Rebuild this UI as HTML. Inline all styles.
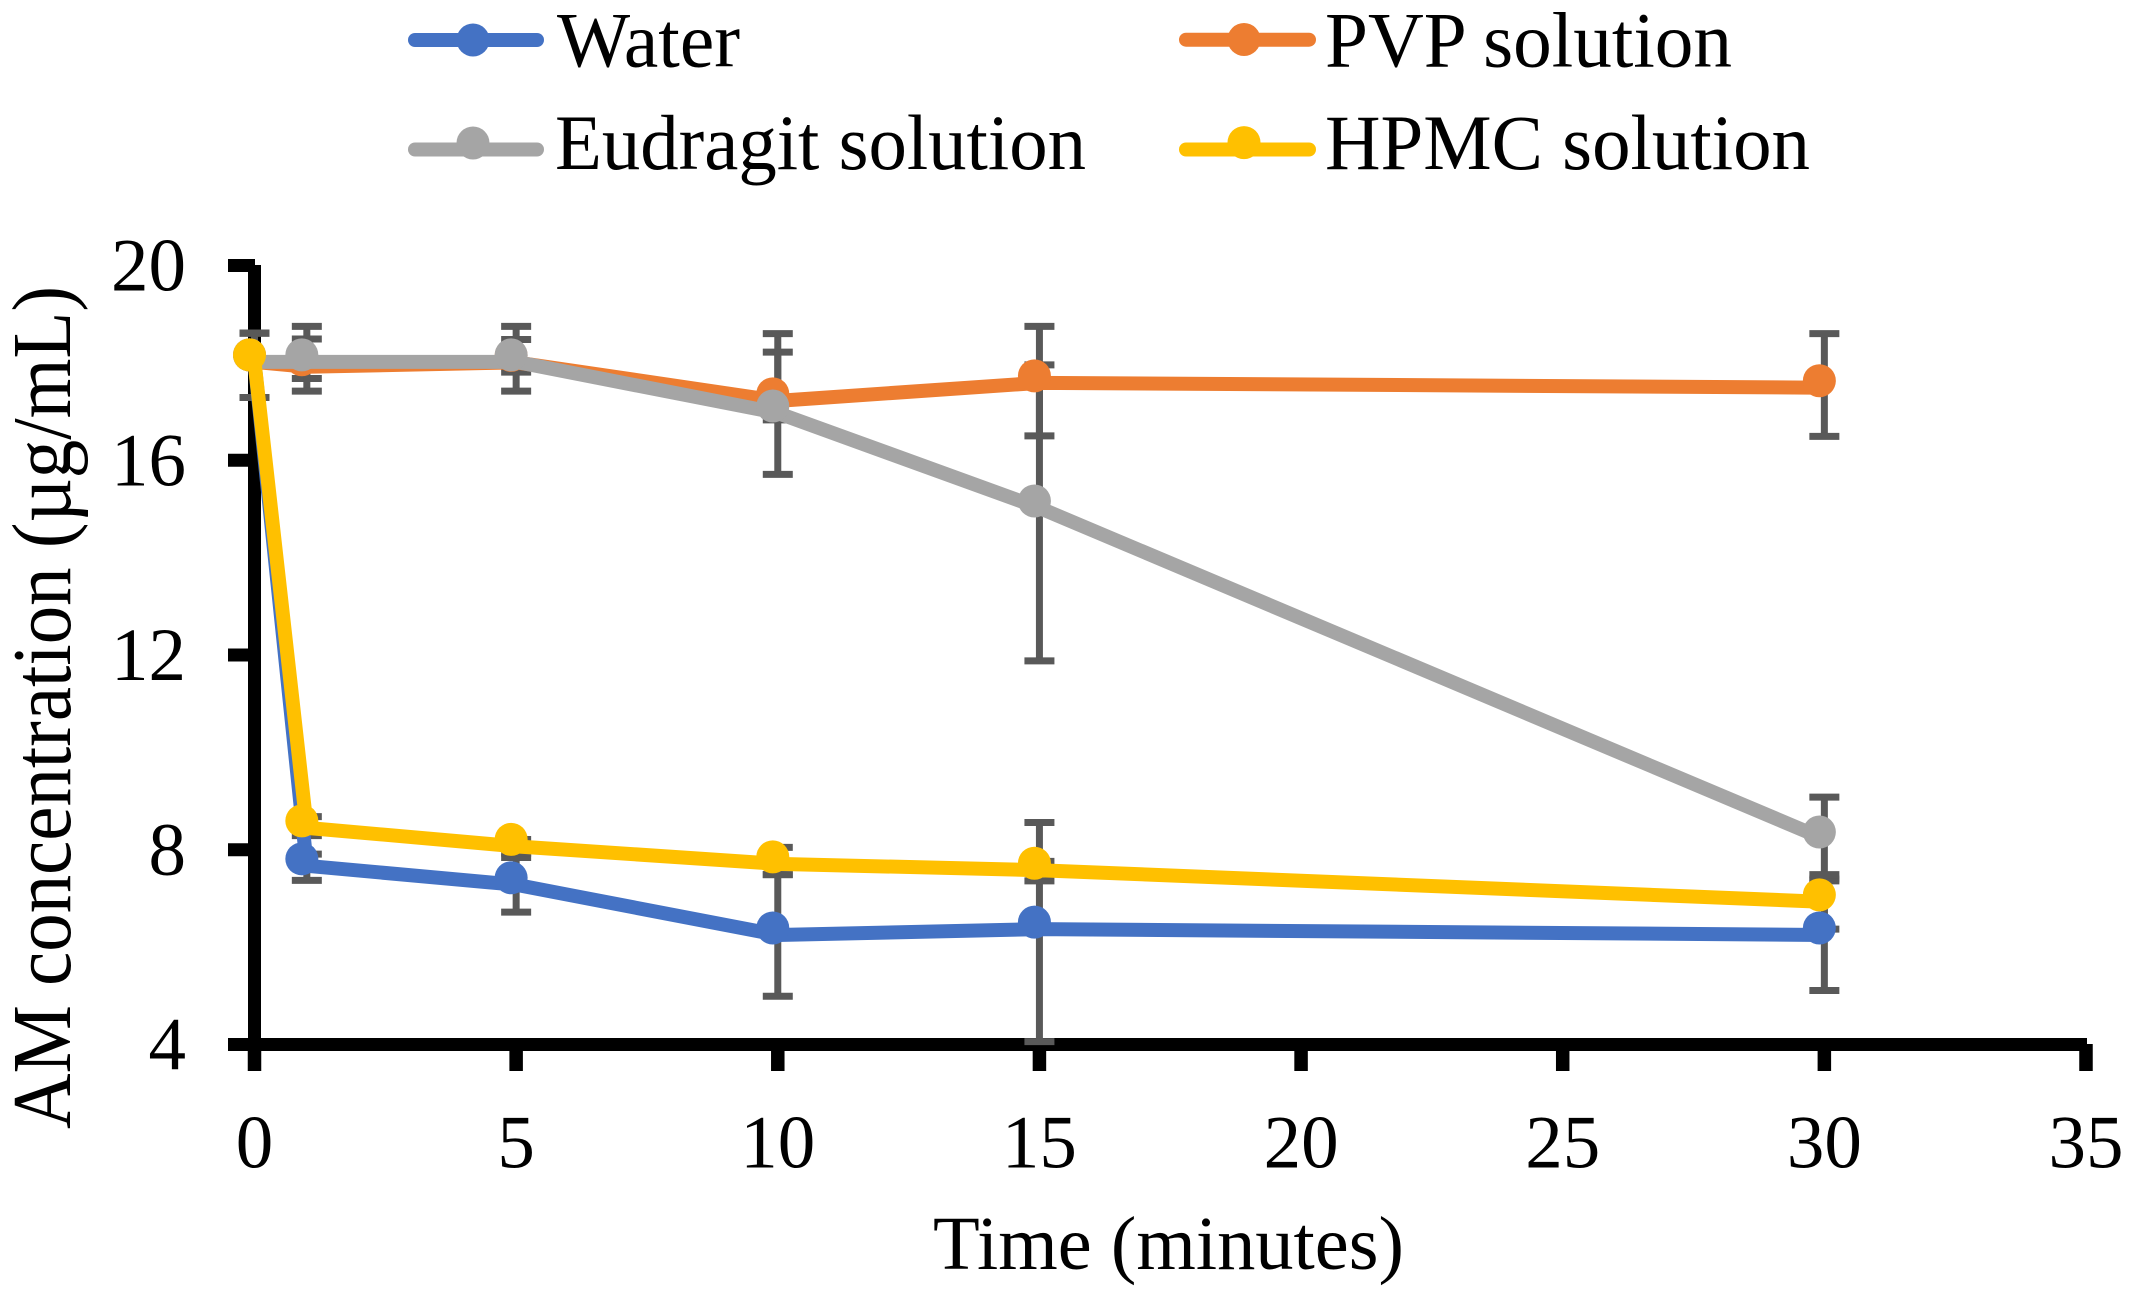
<!DOCTYPE html>
<html lang="en">
<head>
<meta charset="utf-8">
<title>AM concentration over time</title>
<style>
  html, body { margin: 0; padding: 0; background: #ffffff; }
  body { width: 2131px; height: 1295px; overflow: hidden; }
  svg { display: block; }
  text { font-family: "Liberation Serif", "Times New Roman", serif; fill: #000000; }
</style>
</head>
<body>
<svg id="chart" xmlns="http://www.w3.org/2000/svg" width="2131" height="1295" viewBox="0 0 2131 1295">
  <rect x="0" y="0" width="2131" height="1295" fill="#ffffff"></rect>
  <text x="933" y="1269" font-size="76" textLength="471" lengthAdjust="spacingAndGlyphs">Time (minutes)</text>
  <text transform="translate(70 1129) rotate(-90)" x="0" y="0" font-size="84" textLength="843" lengthAdjust="spacingAndGlyphs">AM concentration (µg/mL)</text>
</svg>
<script>
// ---- chart data ----
const times = [0, 1, 5, 10, 15, 30];

const xTickLabels = [0, 5, 10, 15, 20, 25, 30, 35];
const yTickLabels = [4, 8, 12, 16, 20];

const waterValues = [18.02, 7.67, 7.28, 6.25, 6.37, 6.25];
const waterErrUp = [0.59, 0.24, 0.56, 1.24, 2.19, 1.15];
const waterErrDown = [0.73, 0.30, 0.56, 1.26, 2.31, 1.14];

const pvpValues = [18.02, 17.92, 18.01, 17.22, 17.59, 17.49];
const pvpErrUp = [0.59, 0.57, 0.47, 1.00, 1.16, 1.11];
const pvpErrDown = [0.73, 0.24, 0.20, 0.39, 1.09, 1.00];

const eudragitValues = [18.02, 18.02, 18.02, 16.97, 15.02, 8.22];
const eudragitErrUp = [0.59, 0.73, 0.73, 1.63, 2.94, 0.86];
const eudragitErrDown = [0.73, 0.60, 0.60, 1.26, 3.14, 0.86];

const hpmcValues = [18.02, 8.45, 8.07, 7.71, 7.58, 6.93];
const hpmcErrUp = [0.59, 0.23, 0.14, 0.34, 0.18, 0.56];
const hpmcErrDown = [0.73, 0.16, 0.14, 0.22, 0.22, 0.56];

const seriesNames = ["Water", "PVP solution", "Eudragit solution", "HPMC solution"];
const seriesKeys = ["water", "pvp", "eudragit", "hpmc"];

// ---- axis functions ----
const xOf = function (t) { return 254.5 + (t - 0) * (2086 - 254.5) / 35; };
const yOf = function (v) { return 1044.5 - (v - 4) * (1044.5 - 265.5) / 16; };

const NS = "http://www.w3.org/2000/svg";
const svg = document.getElementById("chart");

function make(tag, attrs, parent) {
  const el = document.createElementNS(NS, tag);
  for (const k in attrs) { el.setAttribute(k, attrs[k]); }
  (parent || svg).appendChild(el);
  return el;
}

// ---- axes ----
const AXIS = "#000000";
const yAxisLine = make("line", { x1: 254.5, x2: 254.5, y1: 265, y2: 1071, stroke: AXIS, "stroke-width": 13 });



const xAxisLine = make("line", { x1: 228, x2: 2087, y1: 1044.5, y2: 1044.5, stroke: AXIS, "stroke-width": 13 });



yTickLabels.forEach(function (v) {
  const tick = make("line", { x1: 228, x2: 255, y1: yOf(v), y2: yOf(v), stroke: AXIS, "stroke-width": 13 });
  
  
  const label = make("text", { x: 186, y: yOf(v) + 25, "font-size": 75, "text-anchor": "end" });
  label.textContent = String(v);
  
  
});

xTickLabels.forEach(function (t) {
  const tick = make("line", { x1: xOf(t), x2: xOf(t), y1: 1044, y2: 1071, stroke: AXIS, "stroke-width": 13.5 });
  
  
  const label = make("text", { x: xOf(t), y: 1167.5, "font-size": 75, "text-anchor": "middle" });
  label.textContent = String(t);
  
  
});

// ---- series ----
const colours = { water: "#4472C4", pvp: "#ED7D31", eudragit: "#A5A5A5", hpmc: "#FFC000" };
const lookup = {
  water: [waterValues, waterErrUp, waterErrDown],
  pvp: [pvpValues, pvpErrUp, pvpErrDown],
  eudragit: [eudragitValues, eudragitErrUp, eudragitErrDown],
  hpmc: [hpmcValues, hpmcErrUp, hpmcErrDown]
};
const ERR = "#595959";

// error bars sit under every line
seriesKeys.forEach(function (key) {
  const vals = lookup[key][0], up = lookup[key][1], down = lookup[key][2];
  times.forEach(function (t, i) {
    const x = xOf(t), top = yOf(vals[i] + up[i]), bottom = yOf(vals[i] - down[i]);
    const g = make("g", {});
    
    
    make("line", { x1: x, x2: x, y1: top, y2: bottom, stroke: ERR, "stroke-width": 7 }, g);
    make("line", { x1: x - 15, x2: x + 15, y1: top, y2: top, stroke: ERR, "stroke-width": 7 }, g);
    make("line", { x1: x - 15, x2: x + 15, y1: bottom, y2: bottom, stroke: ERR, "stroke-width": 7 }, g);
  });
});

seriesKeys.forEach(function (key) {
  const vals = lookup[key][0];
  const pts = times.map(function (t, i) { return xOf(t) + "," + yOf(vals[i]); }).join(" ");
  const line = make("polyline", { points: pts, fill: "none", stroke: colours[key], "stroke-width": 14, "stroke-linejoin": "round", "stroke-linecap": "round" });
  
  
  times.forEach(function (t, i) {
    const dot = make("circle", { cx: xOf(t) - 5, cy: yOf(vals[i]) - 7, r: 16.5, fill: colours[key] });
    
    
  });
});

// ---- legend ----
function legendEntry(i, x1, x2, cx, lineY, dotY, textX, textY, textW) {
  const key = seriesKeys[i];
  const g = make("g", {});
  
  
  const sw = make("line", { x1: x1, x2: x2, y1: lineY, y2: lineY, stroke: colours[key], "stroke-width": 14, "stroke-linecap": "round" }, g);
  
  
  const dot = make("circle", { cx: cx, cy: dotY, r: 16.5, fill: colours[key] }, g);
  
  
  const label = make("text", { x: textX, y: textY, "font-size": 78, textLength: textW, lengthAdjust: "spacingAndGlyphs" }, g);
  label.textContent = seriesNames[i];
  
  
}
legendEntry(0, 415, 537, 473, 40, 40, 557, 66.7, 183);
legendEntry(1, 1186, 1309, 1244, 39.7, 39.5, 1325, 66.7, 407);
legendEntry(2, 415, 537, 473, 149.5, 143, 555, 169, 531);
legendEntry(3, 1186, 1309, 1244, 149.5, 142.6, 1325, 169, 485);
</script>
</body>
</html>
